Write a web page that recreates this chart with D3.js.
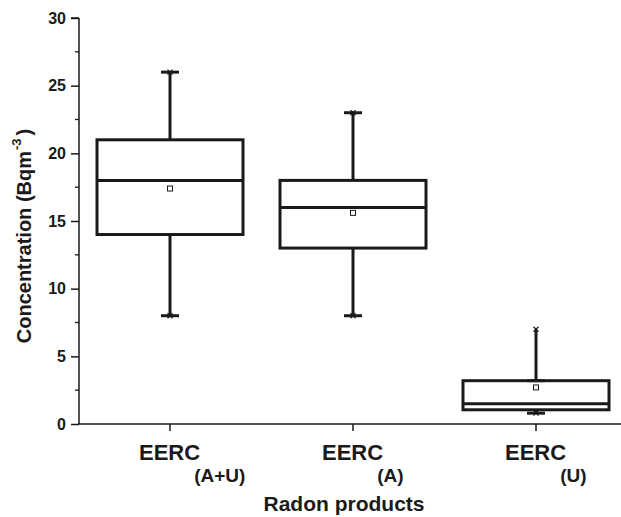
<!DOCTYPE html>
<html><head><meta charset="utf-8">
<script src="https://cdn.jsdelivr.net/npm/d3@7"></script>
<style>body{margin:0;background:#fff}svg{display:block}text{font-family:"Liberation Sans",Arial,sans-serif;font-weight:bold;fill:#1a1a1a}</style>
</head><body>
<script>
const categories = ["A+U", "A", "U"];
const q1 = [14, 13, 1.05];
const median = [18, 16, 1.5];
const q3 = [21, 18, 3.2];
const mean = [17.4, 15.6, 2.7];
const whiskerLow = [8, 8, 0.8];
const whiskerHigh = [26, 23, 7];
const capHigh = [26, 23, 3.2];
const yTicks = [0, 5, 10, 15, 20, 25, 30];

const W = 621, H = 517;
const svg = d3.select("body").append("svg").attr("width", W).attr("height", H);
const ink = "#1a1a1a";
const y = d3.scaleLinear().domain([0, 30]).range([424, 18]);
const x = d3.scalePoint().domain(categories).range([170, 536]);
const boxW = 146, capW = 18;

// axes
const yAxis = d3.axisLeft(y).tickValues(yTicks).tickSize(8).tickPadding(5).tickFormat(d3.format("d"));
const gy = svg.append("g").attr("transform", "translate(79,0)").call(yAxis);
gy.select(".domain").attr("stroke", ink).attr("stroke-width", 1.5).attr("d", `M0,${y(30)}H-8M0,${y(30)}V${y(0)}`);
gy.selectAll(".tick line").attr("stroke", ink).attr("stroke-width", 1.5);
gy.selectAll(".tick text").style("font-size", "16px").attr("fill", ink);
const minor = d3.range(2.5, 30, 5);
svg.append("g").selectAll("line").data(minor).join("line")
  .attr("x1", 75).attr("x2", 79).attr("y1", d => y(d)).attr("y2", d => y(d))
  .attr("stroke", ink).attr("stroke-width", 1.3);

svg.append("line").attr("x1", 78).attr("x2", 621).attr("y1", y(0)).attr("y2", y(0))
  .attr("stroke", ink).attr("stroke-width", 1.5);
svg.append("g").selectAll("line").data(categories).join("line")
  .attr("x1", d => x(d)).attr("x2", d => x(d)).attr("y1", y(0)).attr("y2", y(0) + 7)
  .attr("stroke", ink).attr("stroke-width", 1.5);

// x labels
const xl = svg.append("g").selectAll("text").data(categories).join("text")
  .attr("x", d => x(d) - 31).attr("y", 460).style("font-size", "22px");
xl.append("tspan").text("EERC");
xl.append("tspan").attr("dx", -6).attr("dy", 22).style("font-size", "19px").text(d => "(" + d + ")");

svg.append("text").attr("x", 344).attr("y", 511).attr("text-anchor", "middle")
  .style("font-size", "21px").text("Radon products");

const yt = svg.append("text").attr("transform", "translate(31,236) rotate(-90)")
  .attr("text-anchor", "middle").style("font-size", "20px");
yt.append("tspan").text("Concentration (Bqm");
yt.append("tspan").attr("dy", -10).attr("dx", 1).style("font-size", "13px").text("-3");
yt.append("tspan").attr("dy", 10).attr("dx", 3).text(")");

// boxes
const idx = d3.range(categories.length);
const g = svg.append("g");
idx.forEach(i => {
  const cx = x(categories[i]);
  g.append("line").attr("x1", cx).attr("x2", cx).attr("y1", y(q3[i])).attr("y2", y(whiskerHigh[i]))
    .attr("stroke", ink).attr("stroke-width", 3);
  g.append("line").attr("x1", cx).attr("x2", cx).attr("y1", y(q1[i])).attr("y2", y(whiskerLow[i]))
    .attr("stroke", ink).attr("stroke-width", 3);
  g.append("rect").attr("x", cx - boxW / 2).attr("width", boxW)
    .attr("y", y(q3[i])).attr("height", y(q1[i]) - y(q3[i]))
    .attr("fill", "#fff").attr("stroke", ink).attr("stroke-width", 3);
  g.append("line").attr("x1", cx - boxW / 2).attr("x2", cx + boxW / 2)
    .attr("y1", y(median[i])).attr("y2", y(median[i])).attr("stroke", ink).attr("stroke-width", 3);
  [capHigh[i], whiskerLow[i]].forEach(v => {
    g.append("line").attr("x1", cx - capW / 2).attr("x2", cx + capW / 2)
      .attr("y1", y(v)).attr("y2", y(v)).attr("stroke", ink).attr("stroke-width", 3);
  });
  [whiskerHigh[i], whiskerLow[i]].forEach(v => {
    g.append("path").attr("d", `M${cx - 2.5},${y(v) - 2.5}L${cx + 2.5},${y(v) + 2.5}M${cx - 2.5},${y(v) + 2.5}L${cx + 2.5},${y(v) - 2.5}`)
      .attr("stroke", ink).attr("stroke-width", 1.2);
  });
  g.append("rect").attr("x", cx - 2.5).attr("y", y(mean[i]) - 2.5).attr("width", 5).attr("height", 5)
    .attr("fill", "#fff").attr("stroke", ink).attr("stroke-width", 1);
});
</script>
</body></html>
